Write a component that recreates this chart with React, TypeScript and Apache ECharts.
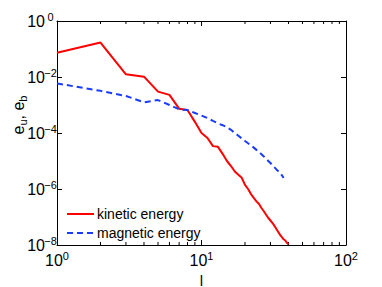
import React, { useEffect, useRef } from "react";
import * as echarts from "echarts";

const degrees = Array.from({ length: 40 }, (_, i) => i + 1);

const kineticEnergy = [
  0.074, 0.17, 0.0125, 0.0103, 0.003, 0.0023, 7.4e-4, 6.6e-4, 2.5e-4, 1.0e-4,
  6.6e-5, 3.4e-5, 3.2e-5, 1.8e-5, 1.0e-5, 6.6e-6, 4.2e-6, 3.2e-6, 2.5e-6, 1.4e-6,
  1.0e-6, 6.6e-7, 4.8e-7, 3.6e-7, 2.9e-7, 2.1e-7, 1.6e-7, 1.2e-7, 9.2e-8, 7.5e-8,
  6.1e-8, 4.8e-8, 3.7e-8, 2.9e-8, 2.3e-8, 1.9e-8, 1.6e-8, 1.45e-8, 1.2e-8, 1.05e-8,
];

const magneticEnergy = [
  5.9e-3, 3.2e-3, 2.1e-3, 1.25e-3, 1.5e-3, 1.0e-3, 7.0e-4, 6.6e-4, 5.2e-4, 4.2e-4,
  3.4e-4, 2.7e-4, 2.2e-4, 1.9e-4, 1.6e-4, 1.3e-4, 1.0e-4, 8.0e-5, 6.4e-5, 5.2e-5,
  4.3e-5, 3.6e-5, 3.0e-5, 2.5e-5, 2.1e-5, 1.75e-5, 1.45e-5, 1.2e-5, 1.0e-5, 8.5e-6,
  7.0e-6, 5.9e-6, 5.0e-6, 4.3e-6, 3.7e-6, 3.1e-6, 2.5e-6,
];

const seriesNames = ["kinetic energy", "magnetic energy"];
const seriesColors = ["#ff0000", "#1a3cff"];
const xMin = 1;
const xMax = 100;
const yMin = 1e-8;
const yMax = 1;
const xMinorTicks = [2, 3, 4, 5, 6, 7, 8, 9, 20, 30, 40, 50, 60, 70, 80, 90];

const FONT = "'Liberation Sans', Arial, Helvetica, sans-serif";
const DASH = [6, 4];

const powLabel = (v: number) => {
  const e = Math.round(Math.log10(v));
  const s = e < 0 ? "\u2212" + Math.abs(e) : String(e);
  return `{b|10}{s|${s}}`;
};

const xLabelRich = {
  b: { fontSize: 16, fontFamily: FONT, color: "#000", lineHeight: 20 },
  s: { fontSize: 11, fontFamily: FONT, color: "#000", lineHeight: 8, verticalAlign: "top" },
};

const yLabelRich = {
  b: { fontSize: 16, fontFamily: FONT, color: "#000", lineHeight: 20 },
  s: { fontSize: 11, fontFamily: FONT, color: "#000", lineHeight: 8, verticalAlign: "top", width: 11, align: "left" },
};

export default function App() {
  const ref = useRef<HTMLDivElement>(null);
  useEffect(() => {
    if (!ref.current) return;
    const chart = echarts.init(ref.current, null, { renderer: "svg" });
    const axisCommon = {
      type: "log",
      logBase: 10,
      axisLine: { show: true, lineStyle: { color: "#000", width: 1 } },
      axisTick: { show: true, inside: true, length: 5, lineStyle: { color: "#000" } },
      splitLine: { show: false },
      minorTick: { show: false },
    };
    const legendX = 67;
    const legendY = [214, 233];
    const graphics: any[] = [];
    seriesNames.forEach((name, i) => {
      graphics.push({
        type: "line",
        shape: { x1: legendX, y1: legendY[i], x2: legendX + 27, y2: legendY[i] },
        style: {
          stroke: seriesColors[i],
          lineWidth: 2,
          lineDash: i === 1 ? DASH : null,
        },
      });
      graphics.push({
        type: "text",
        x: legendX + 30,
        y: legendY[i],
        style: {
          text: name,
          fontSize: 14,
          fontFamily: FONT,
          fill: "#000",
          verticalAlign: "middle",
        },
      });
    });
    graphics.push({
      type: "text",
      x: 18,
      y: 115,
      rotation: Math.PI / 2,
      style: {
        text: "{e|e}{sub|u}{e|, e}{sub|b}",
        align: "center",
        verticalAlign: "middle",
        rich: {
          e: { fontSize: 16, fontFamily: FONT, fill: "#000", lineHeight: 20 },
          sub: { fontSize: 11, fontFamily: FONT, fill: "#000", lineHeight: 8, verticalAlign: "bottom" },
        },
      },
    });
    chart.setOption({
      animation: false,
      backgroundColor: "#fff",
      grid: {
        left: 57,
        top: 21,
        width: 289,
        height: 224,
        containLabel: false,
        outerBoundsMode: "none",
      },
      graphic: graphics,
      xAxis: [
        {
          ...axisCommon,
          position: "bottom",
          min: xMin,
          max: xMax,
          name: "l",
          nameLocation: "middle",
          nameGap: 23,
          nameTextStyle: { fontSize: 15, lineHeight: 15, fontFamily: FONT, color: "#000" },
          axisLabel: { show: true, margin: 5, formatter: powLabel, rich: xLabelRich },
        },
        {
          ...axisCommon,
          position: "top",
          min: xMin,
          max: xMax,
          axisLabel: { show: false },
        },
      ],
      yAxis: [
        {
          ...axisCommon,
          position: "left",
          min: yMin,
          max: yMax,
          interval: 2,
          axisLabel: { show: true, margin: 1, formatter: powLabel, rich: yLabelRich },
        },
        {
          ...axisCommon,
          position: "right",
          min: yMin,
          max: yMax,
          interval: 2,
          axisLabel: { show: false },
        },
      ],
      series: [
        {
          name: seriesNames[0],
          type: "line",
          data: degrees.map((l, i) => [l, kineticEnergy[i]]),
          showSymbol: false,
          symbol: "none",
          lineStyle: { color: seriesColors[0], width: 2 },
          itemStyle: { color: seriesColors[0] },
        },
        {
          name: seriesNames[1],
          type: "line",
          data: magneticEnergy.map((v, i) => [degrees[i], v]),
          showSymbol: false,
          symbol: "none",
          lineStyle: { color: seriesColors[1], width: 2, type: DASH },
          itemStyle: { color: seriesColors[1] },
        },
        {
          type: "custom",
          name: "minorTicks",
          silent: true,
          clip: false,
          data: xMinorTicks.map((v) => [v, 1e-4]),
          renderItem: (params: any, api: any) => {
            const x = api.value(0);
            const pb = api.coord([x, yMin]);
            const pt = api.coord([x, yMax]);
            const style = { stroke: "#000", lineWidth: 1 };
            return {
              type: "group",
              children: [
                { type: "line", shape: { x1: pb[0], y1: pb[1], x2: pb[0], y2: pb[1] - 3 }, style },
                { type: "line", shape: { x1: pt[0], y1: pt[1], x2: pt[0], y2: pt[1] + 3 }, style },
              ],
            };
          },
        },
      ],
    });
    return () => chart.dispose();
  }, []);
  return (
    <div
      ref={ref}
      style={{ position: "fixed", left: 0, top: 0, width: 382, height: 287 }}
    />
  );
}
